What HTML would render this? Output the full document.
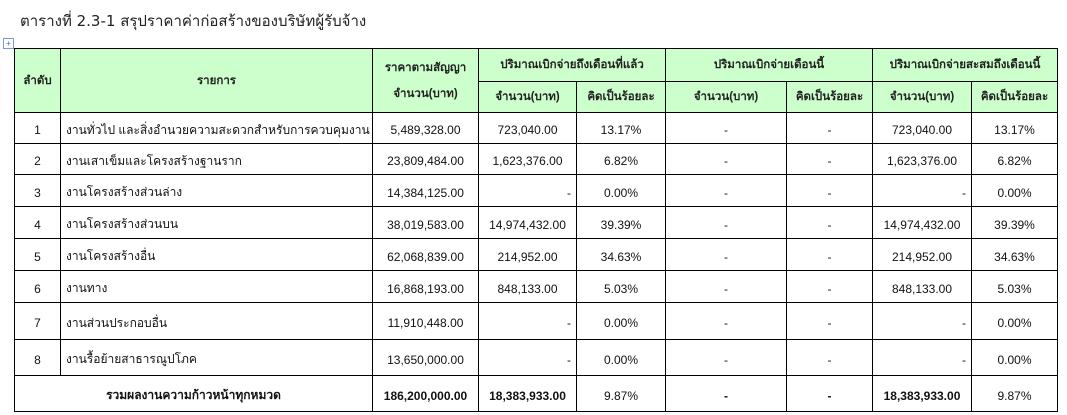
<!DOCTYPE html>
<html><head><meta charset="utf-8"><style>
body{margin:0;background:#fff;width:1067px;height:415px;overflow:hidden;position:relative;font-family:"Liberation Sans","DejaVu Sans","Noto Sans CJK SC",sans-serif;color:#111}
.t{position:absolute;left:20px;top:9px;font-size:15px;color:#222;font-family:"DejaVu Sans",sans-serif}
table{position:absolute;left:14px;top:48px;border-collapse:collapse;font-size:12px;table-layout:fixed;width:1043px}
td{border:1.5px solid #000;padding:4px 5px 0 5px;white-space:nowrap;overflow:hidden}
.h{background:#ccffcc;text-align:center;font-weight:bold;color:#222;font-size:11.5px;padding-top:0}
.c{text-align:center}.r{text-align:right}
.mv{position:absolute;left:3px;top:38px;width:9px;height:9px;border:1px solid #7a9bd0;font-size:8px;line-height:9px;text-align:center;color:#3366cc}
</style></head><body>
<div class="t">ตารางที่ 2.3-1 สรุปราคาค่าก่อสร้างของบริษัทผู้รับจ้าง</div>
<div class="mv">+</div>
<table>
<colgroup><col style="width:46px"><col style="width:312px"><col style="width:106px"><col style="width:98px"><col style="width:89px"><col style="width:121px"><col style="width:86px"><col style="width:99px"><col style="width:86px"></colgroup>
<tr style="height:33px"><td class="h" rowspan="2">ลำดับ</td><td class="h" rowspan="2">รายการ</td><td class="h" rowspan="2" style="line-height:26px">ราคาตามสัญญา<br>จำนวน(บาท)</td><td class="h" colspan="2">ปริมาณเบิกจ่ายถึงเดือนที่แล้ว</td><td class="h" colspan="2">ปริมาณเบิกจ่ายเดือนนี้</td><td class="h" colspan="2">ปริมาณเบิกจ่ายสะสมถึงเดือนนี้</td></tr>
<tr style="height:31px"><td class="h">จำนวน(บาท)</td><td class="h">คิดเป็นร้อยละ</td><td class="h">จำนวน(บาท)</td><td class="h">คิดเป็นร้อยละ</td><td class="h">จำนวน(บาท)</td><td class="h">คิดเป็นร้อยละ</td></tr>
<tr style="height:31px"><td class="c">1</td><td>งานทั่วไป และสิ่งอำนวยความสะดวกสำหรับการควบคุมงาน</td><td class="c">5,489,328.00</td><td class="c">723,040.00</td><td class="c">13.17%</td><td class="c">-</td><td class="c">-</td><td class="c">723,040.00</td><td class="c">13.17%</td></tr>
<tr style="height:31px"><td class="c">2</td><td>งานเสาเข็มและโครงสร้างฐานราก</td><td class="c">23,809,484.00</td><td class="c">1,623,376.00</td><td class="c">6.82%</td><td class="c">-</td><td class="c">-</td><td class="c">1,623,376.00</td><td class="c">6.82%</td></tr>
<tr style="height:32px"><td class="c">3</td><td>งานโครงสร้างส่วนล่าง</td><td class="c">14,384,125.00</td><td class="r">-</td><td class="c">0.00%</td><td class="c">-</td><td class="c">-</td><td class="r">-</td><td class="c">0.00%</td></tr>
<tr style="height:32px"><td class="c">4</td><td>งานโครงสร้างส่วนบน</td><td class="c">38,019,583.00</td><td class="c">14,974,432.00</td><td class="c">39.39%</td><td class="c">-</td><td class="c">-</td><td class="c">14,974,432.00</td><td class="c">39.39%</td></tr>
<tr style="height:32px"><td class="c">5</td><td>งานโครงสร้างอื่น</td><td class="c">62,068,839.00</td><td class="c">214,952.00</td><td class="c">34.63%</td><td class="c">-</td><td class="c">-</td><td class="c">214,952.00</td><td class="c">34.63%</td></tr>
<tr style="height:32px"><td class="c">6</td><td>งานทาง</td><td class="c">16,868,193.00</td><td class="c">848,133.00</td><td class="c">5.03%</td><td class="c">-</td><td class="c">-</td><td class="c">848,133.00</td><td class="c">5.03%</td></tr>
<tr style="height:37px"><td class="c">7</td><td>งานส่วนประกอบอื่น</td><td class="c">11,910,448.00</td><td class="r">-</td><td class="c">0.00%</td><td class="c">-</td><td class="c">-</td><td class="r">-</td><td class="c">0.00%</td></tr>
<tr style="height:36px"><td class="c">8</td><td>งานรื้อย้ายสาธารณูปโภค</td><td class="c">13,650,000.00</td><td class="r">-</td><td class="c">0.00%</td><td class="c">-</td><td class="c">-</td><td class="r">-</td><td class="c">0.00%</td></tr>
<tr style="height:36px;font-weight:bold"><td colspan="2" class="c">รวมผลงานความก้าวหน้าทุกหมวด</td><td class="c">186,200,000.00</td><td class="c">18,383,933.00</td><td class="c" style="font-weight:normal">9.87%</td><td class="c">-</td><td class="c">-</td><td class="c">18,383,933.00</td><td class="c" style="font-weight:normal">9.87%</td></tr>
</table>
</body></html>
